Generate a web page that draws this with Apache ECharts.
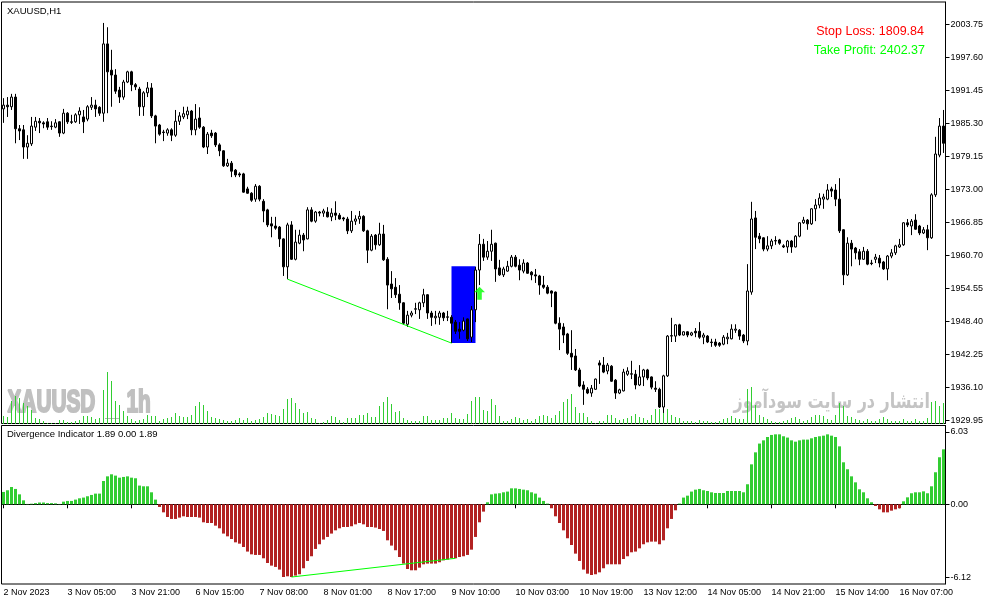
<!DOCTYPE html>
<html><head><meta charset="utf-8">
<script src="https://cdn.jsdelivr.net/npm/echarts@6/dist/echarts.min.js"></script>
<style>html,body{margin:0;padding:0;background:#fff}#c{width:991px;height:605px}</style>
</head><body><div id="c"></div>
<script>
// [open, close, low, high] per H1 bar
const candles = [
[1988.0,1988.7,1985.4,1990.0],[1988.7,1988.4,1986.5,1990.2],[1988.4,1990.2,1987.8,1990.8],[1990.2,1984.3,1981.6,1990.8],[1984.3,1983.9,1982.2,1985.0],
[1984.1,1980.9,1978.7,1985.0],[1980.9,1981.6,1978.7,1983.1],[1981.5,1984.8,1981.1,1986.5],[1984.6,1985.7,1983.9,1986.5],[1985.7,1985.4,1983.5,1986.3],
[1985.4,1985.2,1984.4,1985.7],[1985.6,1984.6,1984.1,1986.3],[1984.8,1984.7,1984.1,1985.7],[1984.6,1985.4,1984.4,1986.1],[1985.6,1983.5,1982.8,1985.7],
[1983.5,1987.2,1983.3,1988.0],[1987.2,1985.6,1985.2,1987.4],[1985.6,1985.5,1985.2,1986.9],[1985.6,1986.9,1985.4,1987.2],[1986.9,1987.6,1985.2,1988.3],
[1986.5,1985.6,1983.5,1987.8],[1986.1,1988.4,1985.7,1988.7],[1988.3,1988.7,1987.8,1990.2],[1988.7,1988.0,1986.5,1989.7],[1988.3,1987.2,1986.7,1988.5],
[1987.2,2000.1,1985.6,2004.0],[2000.1,1994.9,1987.2,2003.2],[1995.2,1994.3,1988.4,1999.0],[1994.3,1991.3,1990.8,1995.4],[1991.5,1990.2,1989.1,1992.1],
[1990.2,1993.0,1989.7,1993.4],[1993.0,1994.9,1992.8,1995.1],[1994.9,1992.5,1991.3,1995.1],[1992.5,1992.1,1991.5,1992.8],[1991.7,1988.4,1986.7,1992.1],
[1988.4,1991.0,1986.7,1991.3],[1991.0,1991.9,1990.2,1993.0],[1991.9,1986.7,1986.3,1992.8],[1986.7,1984.8,1981.6,1986.9],[1985.0,1983.3,1983.0,1985.2],
[1983.7,1983.6,1982.0,1984.1],[1983.5,1984.1,1983.0,1984.4],[1984.1,1983.1,1982.0,1984.4],[1983.1,1985.7,1982.8,1987.8],[1985.7,1986.7,1985.0,1987.4],
[1986.5,1987.1,1986.1,1988.4],[1986.9,1987.6,1986.1,1988.4],[1987.6,1984.1,1983.1,1987.8],[1984.1,1986.1,1983.1,1988.9],[1986.3,1984.6,1984.3,1988.3],
[1984.6,1980.9,1980.7,1984.8],[1980.9,1983.3,1979.6,1983.7],[1983.5,1983.0,1982.6,1984.1],[1983.5,1981.3,1980.9,1983.7],[1981.3,1980.2,1979.2,1981.6],
[1980.2,1977.4,1977.2,1980.3],[1977.4,1977.9,1977.2,1978.7],[1977.9,1976.4,1975.3,1978.3],[1976.6,1975.7,1975.3,1976.8],[1975.9,1975.7,1975.3,1976.2],
[1975.9,1972.5,1972.4,1976.1],[1973.1,1972.3,1972.2,1973.5],[1972.3,1971.0,1970.7,1972.5],[1971.2,1973.6,1970.7,1974.0],[1973.6,1971.2,1970.8,1973.8],
[1970.8,1969.0,1966.9,1971.2],[1969.2,1966.4,1966.0,1969.4],[1966.6,1966.2,1964.1,1967.9],[1966.2,1965.8,1965.5,1967.9],[1966.0,1963.8,1962.3,1966.2],
[1963.8,1958.6,1956.9,1963.9],[1958.6,1966.4,1956.3,1966.8],[1966.4,1960.0,1959.9,1967.1],[1960.0,1963.2,1959.8,1965.5],[1963.0,1964.5,1962.8,1965.5],
[1964.5,1963.6,1961.5,1964.9],[1963.8,1969.2,1963.7,1969.7],[1969.2,1967.1,1966.9,1969.7],[1967.1,1968.8,1966.8,1969.0],[1968.8,1968.6,1968.0,1969.0],
[1968.6,1969.0,1967.9,1969.4],[1968.8,1967.9,1967.8,1969.7],[1967.9,1968.6,1967.1,1969.5],[1968.6,1968.2,1967.3,1970.8],[1968.2,1967.5,1967.4,1968.6],
[1967.7,1967.5,1967.1,1967.9],[1967.5,1965.3,1964.7,1967.9],[1965.3,1967.1,1964.9,1969.0],[1967.1,1967.5,1966.4,1968.2],[1967.5,1968.0,1966.6,1969.0],
[1968.0,1965.3,1965.1,1968.2],[1965.3,1961.7,1959.3,1965.5],[1961.7,1964.3,1961.5,1964.7],[1964.5,1962.7,1961.8,1964.7],[1962.7,1964.7,1962.5,1966.8],
[1964.7,1959.9,1959.7,1966.4],[1960.0,1955.2,1950.7,1960.4],[1955.4,1954.5,1952.8,1957.8],[1954.8,1953.4,1952.8,1956.5],[1953.5,1951.9,1950.6,1955.2],
[1951.9,1948.1,1947.8,1952.0],[1947.9,1949.6,1947.4,1950.4],[1949.6,1950.0,1949.2,1950.4],[1950.7,1950.8,1949.8,1951.9],[1950.6,1951.9,1948.9,1952.1],
[1951.9,1953.4,1951.1,1954.5],[1953.4,1950.0,1948.9,1953.5],[1950.0,1949.2,1947.6,1950.4],[1949.1,1949.4,1947.9,1950.4],[1949.2,1950.0,1947.8,1950.4],
[1950.0,1949.1,1948.5,1950.2],[1949.2,1949.3,1948.5,1950.4],[1949.2,1948.1,1944.4,1949.6],[1948.3,1946.6,1946.1,1948.7],[1947.0,1946.6,1945.2,1948.3],
[1946.8,1948.5,1946.6,1949.2],[1948.9,1945.2,1944.8,1949.0],[1945.5,1950.6,1944.6,1951.3],[1950.6,1958.0,1948.3,1958.6],[1958.0,1962.8,1955.2,1964.7],
[1962.8,1960.4,1959.7,1963.8],[1960.4,1961.5,1959.9,1963.4],[1961.5,1962.8,1959.7,1965.5],[1963.0,1958.2,1955.8,1963.1],[1958.4,1957.1,1956.9,1959.9],
[1957.1,1958.2,1956.7,1958.6],[1957.8,1958.7,1957.7,1959.7],[1958.7,1960.4,1958.5,1960.8],[1960.4,1958.7,1958.5,1960.8],[1958.9,1958.0,1956.1,1960.0],
[1957.8,1959.3,1957.4,1960.0],[1959.3,1957.4,1957.3,1959.5],[1957.6,1957.1,1956.1,1957.8],[1957.1,1956.9,1955.6,1958.2],[1956.9,1955.2,1953.4,1957.1],
[1955.2,1954.8,1954.5,1956.9],[1954.8,1953.7,1953.5,1955.2],[1954.1,1953.7,1951.1,1954.2],[1953.9,1948.1,1947.9,1954.0],[1948.1,1947.0,1943.1,1949.2],
[1947.4,1945.9,1944.4,1948.1],[1946.1,1942.5,1942.2,1946.3],[1942.5,1941.8,1939.4,1946.8],[1942.0,1939.4,1939.2,1943.3],[1939.4,1936.4,1936.2,1939.8],
[1936.6,1935.8,1932.9,1937.3],[1935.8,1935.1,1934.9,1936.2],[1935.1,1936.0,1934.4,1936.6],[1935.8,1937.7,1935.7,1937.8],[1940.7,1940.3,1936.8,1941.2],
[1940.3,1939.0,1938.8,1941.8],[1939.2,1940.3,1938.6,1940.7],[1940.1,1937.3,1937.2,1940.3],[1937.5,1935.1,1934.0,1937.7],[1935.1,1935.7,1934.9,1935.9],
[1935.5,1939.0,1935.4,1939.6],[1938.6,1939.2,1938.3,1939.9],[1938.6,1938.7,1937.7,1941.1],[1938.6,1936.6,1935.8,1939.4],[1936.6,1938.1,1936.4,1940.3],
[1938.1,1939.4,1936.4,1939.6],[1939.4,1937.9,1937.5,1939.6],[1938.1,1936.2,1935.8,1938.2],[1936.0,1935.8,1935.3,1937.3],[1935.8,1932.5,1932.3,1936.1],
[1932.5,1938.3,1931.4,1938.5],[1938.3,1945.7,1938.1,1945.9],[1945.7,1945.8,1944.6,1949.1],[1945.7,1947.8,1944.6,1947.9],[1947.8,1945.9,1945.7,1948.0],
[1945.9,1946.5,1945.8,1946.6],[1946.5,1945.9,1945.5,1946.6],[1945.9,1946.3,1945.7,1946.5],[1946.6,1946.3,1945.5,1947.2],[1946.6,1945.5,1945.2,1948.3],
[1945.5,1945.9,1944.2,1946.3],[1945.7,1944.6,1944.4,1945.9],[1944.6,1944.5,1943.7,1945.2],[1944.6,1944.0,1943.7,1945.2],[1944.4,1944.0,1943.7,1944.6],
[1944.2,1945.5,1944.0,1945.9],[1945.2,1945.5,1944.2,1946.3],[1945.2,1947.0,1945.1,1947.9],[1946.8,1947.0,1946.3,1947.9],[1946.8,1945.7,1945.0,1947.0],
[1945.9,1944.8,1944.4,1946.1],[1944.8,1954.1,1944.0,1959.1],[1953.9,1967.5,1953.4,1970.7],[1967.7,1964.1,1961.9,1969.0],[1964.3,1963.8,1963.0,1964.9],
[1964.0,1961.9,1961.5,1964.1],[1961.9,1962.5,1961.5,1964.3],[1962.5,1963.4,1961.9,1963.8],[1963.4,1963.5,1962.7,1964.3],[1963.6,1963.0,1962.7,1963.8],
[1962.5,1962.3,1962.1,1962.8],[1962.3,1963.4,1961.2,1963.6],[1963.4,1962.3,1961.2,1963.6],[1962.3,1964.3,1962.2,1964.5],[1964.3,1966.8,1964.1,1966.9],
[1966.8,1967.3,1966.6,1967.9],[1967.3,1966.6,1965.5,1967.5],[1966.6,1969.4,1966.4,1969.5],[1969.4,1970.1,1967.1,1971.2],[1970.1,1971.4,1969.5,1972.3],
[1971.2,1971.6,1969.4,1972.2],[1971.2,1972.9,1971.0,1974.0],[1973.1,1972.7,1971.6,1973.5],[1972.9,1971.2,1969.9,1974.0],[1971.2,1965.3,1964.9,1975.1],
[1965.5,1957.1,1955.2,1965.6],[1957.1,1963.0,1956.9,1964.1],[1963.0,1961.9,1958.7,1963.6],[1962.1,1961.2,1960.0,1962.3],[1961.4,1960.0,1958.9,1961.9],
[1960.0,1961.5,1959.9,1962.3],[1961.5,1959.1,1958.9,1961.9],[1959.3,1959.2,1958.9,1959.9],[1960.0,1960.4,1959.3,1961.0],[1960.2,1959.3,1958.5,1960.8],
[1959.5,1958.2,1958.0,1959.7],[1958.2,1960.6,1956.1,1960.8],[1960.6,1961.2,1960.2,1961.9],[1961.2,1962.5,1960.8,1962.7],[1962.3,1962.7,1962.1,1963.8],
[1962.7,1966.8,1962.5,1966.9],[1966.8,1966.4,1966.0,1967.5],[1966.2,1967.1,1964.5,1967.5],[1967.3,1965.6,1965.5,1968.4],[1966.2,1964.9,1964.5,1966.4],
[1964.9,1965.5,1964.7,1966.0],[1965.5,1964.0,1961.7,1966.4],[1964.0,1972.0,1963.8,1972.3],[1972.0,1979.6,1971.6,1982.8],[1979.4,1984.8,1979.0,1986.3],
[1984.8,1981.6,1979.8,1987.8]
];

// tick volume (relative)
const volumes = [
8,7,23,28,26,21,18,14,6,5,3,1,1,1,4,4,2,2,3,4,8,8,7,5,6,34,52,43,23,19,13,8,5,3,4,5,9,8,8,3,5,6,7,11,8,7,7,9,18,22,19,13,7,6,5,4,3,3,4,6,
4,6,3,4,5,7,11,10,9,8,15,25,26,21,15,11,12,6,5,1,2,4,8,7,4,2,6,6,6,9,9,11,7,7,18,22,27,20,12,13,6,4,3,3,3,8,8,4,4,4,6,6,11,6,5,5,10,23,
27,27,14,13,25,19,8,3,3,5,7,6,4,5,3,5,8,9,8,6,9,13,22,25,30,17,11,11,7,3,1,3,3,9,9,6,4,5,6,8,10,7,6,4,9,15,15,14,15,9,7,6,3,3,3,2,4,3,3,
2,2,3,5,6,8,6,5,5,35,37,19,9,7,5,3,2,2,3,4,6,7,5,3,4,7,9,9,8,5,4,9,21,18,8,7,5,4,3,5,3,3,5,7,5,3,3,3,5,3,3,5,3,3,6,22,23,18,21
];

// Divergence Indicator histogram
const divergence = [
1.03,1.17,1.44,1.28,0.83,0.33,0.03,0.05,0.1,0.15,0.15,0.1,0.1,0.08,0.03,0.22,0.28,0.28,0.39,0.5,
0.56,0.67,0.78,0.89,0.89,1.94,2.33,2.5,2.39,2.22,2.28,2.33,2.22,2.17,1.56,1.5,1.5,1.0,0.39,-0.22,
-0.67,-1.06,-1.22,-1.22,-1.11,-1.0,-1.06,-1.06,-1.06,-1.11,-1.5,-1.56,-1.56,-1.78,-2.0,-2.44,-2.67,-2.89,-3.17,-3.28,
-3.56,-3.94,-4.17,-4.22,-4.22,-4.5,-4.89,-5.11,-5.22,-5.44,-6.06,-6.0,-6.06,-5.94,-5.83,-5.33,-4.72,-4.33,-3.72,-3.33,
-2.94,-2.72,-2.44,-2.17,-2.0,-1.89,-1.89,-1.83,-1.67,-1.56,-1.67,-1.89,-1.89,-1.94,-2.06,-2.22,-3.0,-3.44,-3.83,-4.39,
-4.94,-5.39,-5.5,-5.5,-5.28,-5.0,-4.94,-4.94,-4.94,-4.83,-4.67,-4.61,-4.5,-4.5,-4.39,-4.33,-4.22,-3.78,-2.72,-1.5,
-0.61,0.17,0.83,0.89,0.92,1.0,1.06,1.33,1.33,1.28,1.22,1.17,1.0,0.89,0.56,0.28,0.06,-0.33,-1.0,-1.56,
-2.17,-2.83,-3.39,-4.11,-4.72,-5.44,-5.78,-5.89,-5.83,-5.67,-5.33,-5.0,-5.0,-5.0,-5.0,-4.56,-4.33,-4.0,-3.94,-3.67,
-3.33,-3.17,-3.11,-3.11,-3.33,-3.0,-2.0,-1.22,-0.5,0.06,0.56,0.72,1.06,1.22,1.28,1.17,1.11,1.0,0.94,0.94,
0.94,1.11,1.11,1.11,1.11,1.0,1.67,3.33,4.33,5.06,5.33,5.61,5.78,5.83,5.83,5.67,5.56,5.33,5.22,5.33,
5.39,5.39,5.5,5.61,5.67,5.72,5.83,5.72,5.61,4.83,3.5,2.92,2.33,1.83,1.25,1.0,0.5,0.17,-0.14,-0.42,
-0.67,-0.67,-0.53,-0.42,-0.33,0.25,0.58,0.92,1.0,1.0,1.08,0.92,1.5,2.67,3.92,4.58
];

const tickLabels = ['2 Nov 2023','3 Nov 05:00','3 Nov 21:00','6 Nov 15:00','7 Nov 08:00','8 Nov 01:00','8 Nov 17:00','9 Nov 10:00','10 Nov 03:00','10 Nov 19:00','13 Nov 12:00','14 Nov 05:00','14 Nov 21:00','15 Nov 14:00','16 Nov 07:00'];
const tickStep = 16;
const priceTicks = [2003.75,1997.60,1991.45,1985.30,1979.15,1973.00,1966.85,1960.70,1954.55,1948.40,1942.25,1936.10,1929.95];
const indicatorTicks = [6.03, 0, -6.12];
const priceTrend = [[71,1956.3],[112,1944.4]];
const indicatorTrend = [[72,-6.06],[113,-4.5]];
const signalBox = [[112,118,1958.7,1944.4]];
const signalArrow = [[119,1953.7]];
const stopLoss = 1809.84, takeProfit = 2402.37;
const indicatorLegend = [1.89, 0.00, 1.89];
const categories = candles.map((d, i) => i);
const volumeData = volumes.map((v, i) => [i, v]);

const F = '"Liberation Sans", Arial, sans-serif';
const WM = '#c0c0c0';
const chart = echarts.init(document.getElementById('c'), null, {renderer: 'canvas'});
const option = {
  animation: false,
  backgroundColor: '#fff',
  grid: [
    {left: 1.5, top: 2, width: 944, height: 421.5, show: true, borderColor: '#000', borderWidth: 1},
    {left: 1.5, top: 425.5, width: 944, height: 158.5, show: true, borderColor: '#000', borderWidth: 1}
  ],
  xAxis: [
    {type: 'category', gridIndex: 0, data: categories, boundaryGap: true,
     axisLine: {show: false}, axisTick: {show: false}, axisLabel: {show: false}, splitLine: {show: false}},
    {type: 'category', gridIndex: 1, data: categories, boundaryGap: true, position: 'bottom',
     axisLine: {show: true, lineStyle: {color: '#000', width: 1}},
     axisTick: {show: true, alignWithLabel: true, length: 4, interval: (i) => i % tickStep === 0, lineStyle: {color: '#000'}},
     axisLabel: {show: true, interval: (i) => i % tickStep === 0, formatter: (v) => tickLabels[Math.round(v / tickStep)] || '',
                 align: 'left', margin: 4, color: '#000', fontFamily: F, fontSize: 9},
     splitLine: {show: false}}
  ],
  yAxis: [
    {type: 'value', gridIndex: 0, position: 'right', min: 1929.43, max: 2007.90,
     axisLine: {show: true, lineStyle: {color: '#000', width: 1}},
     axisTick: {show: true, length: 4, customValues: priceTicks, lineStyle: {color: '#000'}},
     axisLabel: {show: true, customValues: priceTicks, formatter: (v) => v.toFixed(2), margin: 5, color: '#000', fontFamily: F, fontSize: 9},
     splitLine: {show: false}},
    {type: 'value', gridIndex: 0, min: 0, max: 421.5, show: false, splitLine: {show: false}},
    {type: 'value', gridIndex: 1, position: 'right', min: -6.642, max: 6.567,
     axisLine: {show: true, lineStyle: {color: '#000', width: 1}},
     axisTick: {show: true, length: 4, customValues: indicatorTicks, lineStyle: {color: '#000'}},
     axisLabel: {show: true, customValues: indicatorTicks, formatter: (v) => v.toFixed(2), margin: 5, color: '#000', fontFamily: F, fontSize: 9},
     splitLine: {show: false}}
  ],
  series: [
    {type: 'custom', xAxisIndex: 0, yAxisIndex: 0, z: 1, data: signalBox, encode: {x: [0, 1], y: [2, 3]},
     renderItem: (params, api) => {
       const p1 = api.coord([api.value(0), api.value(2)]);
       const p2 = api.coord([api.value(1), api.value(3)]);
       return {type: 'rect', shape: {x: p1[0], y: p1[1], width: p2[0] - p1[0], height: p2[1] - p1[1]}, style: {fill: '#0000ff'}};
     }},
    {type: 'custom', xAxisIndex: 0, yAxisIndex: 1, z: 2, data: volumeData, encode: {x: 0, y: 1},
     renderItem: (params, api) => {
       const base = api.coord([api.value(0), 0]);
       const top = api.coord([api.value(0), api.value(1)]);
       const x = Math.floor(base[0]);
       return {type: 'rect', shape: {x: x, y: Math.round(top[1]), width: 1, height: Math.round(base[1]) - Math.round(top[1])},
               style: {fill: '#32cd32'}};
     }},
    {type: 'candlestick', xAxisIndex: 0, yAxisIndex: 0, data: candles, barWidth: 2, z: 3,
     itemStyle: {color: '#fff', color0: '#000', borderColor: '#000', borderColor0: '#000', borderColorDoji: '#000', borderWidth: 1}},
    {type: 'line', xAxisIndex: 0, yAxisIndex: 0, data: priceTrend, symbol: 'none', z: 4,
     lineStyle: {color: '#00ff00', width: 1}},
    {type: 'scatter', xAxisIndex: 0, yAxisIndex: 0, data: signalArrow, z: 5,
     symbol: 'path://M6,0 L12,6 L8.5,6 L8.5,14 L3.5,14 L3.5,6 L0,6 Z', symbolSize: [11, 13],
     itemStyle: {color: '#00ff00'}},
    {type: 'bar', xAxisIndex: 1, yAxisIndex: 2, data: divergence, barWidth: 3, z: 2,
     itemStyle: {color: (p) => p.value >= 0 ? '#32cd32' : '#b22222'}},
    {type: 'line', xAxisIndex: 1, yAxisIndex: 2, data: indicatorTrend, symbol: 'none', z: 4,
     lineStyle: {color: '#00ff00', width: 1}}
  ],
  graphic: [
    {type: 'text', x: 7.5, y: 403.5, z: 0, scaleX: 0.66,
     style: {text: 'XAUUSD', font: 'bold 31.5px "Liberation Sans", Arial', fill: WM, stroke: WM, lineWidth: 2.2, textAlign: 'left', textVerticalAlign: 'middle'}},
    {type: 'text', x: 126.5, y: 403.5, z: 0, scaleX: 0.66,
     style: {text: '1h', font: 'bold 31.5px "Liberation Sans", Arial', fill: WM, stroke: WM, lineWidth: 2.2, textAlign: 'left', textVerticalAlign: 'middle'}},
    {type: 'line', z: 0, shape: {x1: 105, y1: 418.5, x2: 120, y2: 418.5}, style: {stroke: '#b8b8b8', lineWidth: 1}},
    {type: 'text', x: 930, y: 403, z: 0, scaleX: 0.76,
     style: {text: 'انتشار در سایت سودآموز', font: 'bold 21px "DejaVu Sans"', fill: '#c4c4c4', textAlign: 'right', textVerticalAlign: 'middle'}},
    {type: 'text', x: 7, y: 11, z: 10,
     style: {text: 'XAUUSD,H1', font: '9.5px "Liberation Sans", Arial', fill: '#000', textAlign: 'left', textVerticalAlign: 'middle'}},
    {type: 'text', x: 7, y: 434.5, z: 10,
     style: {text: 'Divergence Indicator ' + indicatorLegend.map(v => v.toFixed(2)).join(' '), font: '9.5px "Liberation Sans", Arial', fill: '#000', textAlign: 'left', textVerticalAlign: 'middle'}},
    {type: 'text', x: 924, y: 32, z: 10,
     style: {text: 'Stop Loss: ' + stopLoss.toFixed(2), font: '12.5px "Liberation Sans", Arial', fill: '#ff0000', textAlign: 'right', textVerticalAlign: 'middle'}},
    {type: 'text', x: 925, y: 51, z: 10,
     style: {text: 'Take Profit: ' + takeProfit.toFixed(2), font: '12.5px "Liberation Sans", Arial', fill: '#00ff00', textAlign: 'right', textVerticalAlign: 'middle'}}
  ]
};
chart.setOption(option);
</script>
</body></html>
